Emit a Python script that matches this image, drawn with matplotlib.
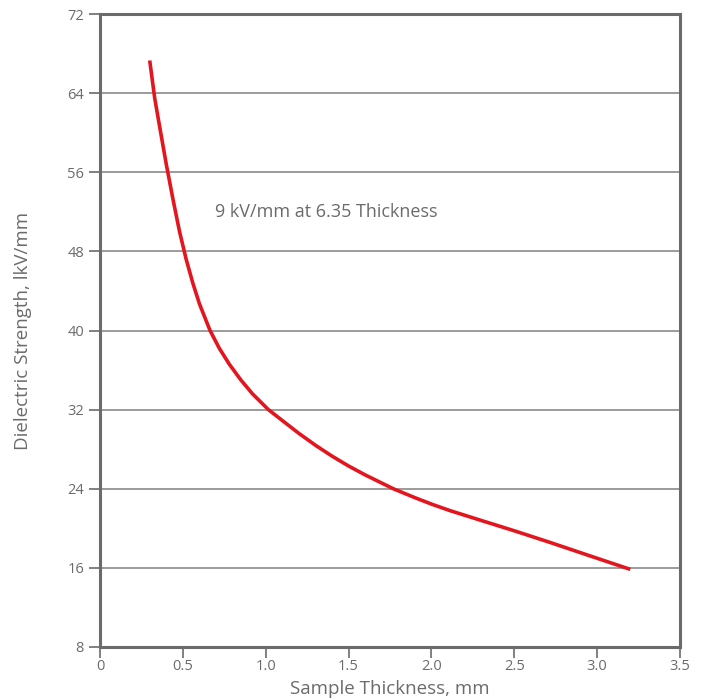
import matplotlib
matplotlib.use("Agg")
import matplotlib.pyplot as plt

thickness = [0.30, 0.33, 0.36, 0.40, 0.44, 0.48, 0.52, 0.56, 0.60, 0.664, 0.72, 0.78, 0.85, 0.92,
             1.016, 1.10, 1.20, 1.30, 1.40, 1.50, 1.60, 1.77, 1.90, 2.00, 2.11, 2.29, 2.50, 2.72, 2.95, 3.20]
strength = [67.3, 63.5, 60.6, 56.8, 53.3, 50.0, 47.2, 44.8, 42.7, 40.0, 38.2, 36.6, 35.0, 33.6,
            32.0, 30.9, 29.6, 28.4, 27.3, 26.3, 25.4, 24.0, 23.1, 22.45, 21.8, 20.85, 19.75, 18.55, 17.25, 15.85]

xticks = [0, 0.5, 1.0, 1.5, 2.0, 2.5, 3.0, 3.5]
xticklabels = ["0", "0.5", "1.0", "1.5", "2.0", "2.5", "3.0", "3.5"]
yticks = [8, 16, 24, 32, 40, 48, 56, 64, 72]

annotation = "9 kV/mm at 6.35 Thickness"
xlabel = "Sample Thickness, mm"
ylabel = "Dielectric Strength, lkV/mm"

plt.rcParams['font.family'] = ['Open Sans', 'DejaVu Sans']
grey = "#6b6b6b"

fig = plt.figure(figsize=(7.04, 7.0), dpi=100)
ax = fig.add_axes([100/704, 1-647/700, 580/704, 633/700])

ax.set_xlim(0, 3.5)
ax.set_ylim(8, 72)
ax.set_xticks(xticks)
ax.set_xticklabels(xticklabels)
ax.set_yticks(yticks)

ax.grid(axis='y', color='#8a8a8a', linewidth=1.2)
ax.set_axisbelow(True)

for s in ax.spines.values():
    s.set_color(grey)
    s.set_linewidth(2.2)

ax.tick_params(axis='both', colors=grey, labelcolor=grey, labelsize=10.5, length=8, width=1.2)
ax.tick_params(axis='x', pad=1)

ax.plot(thickness, strength, color='#e3161f', linewidth=2.6, solid_capstyle='butt',
        solid_joinstyle='round', zorder=3)

ax.text(0.694, 52.0, annotation, fontsize=13, color=grey, va='center', ha='left')

ax.set_xlabel(xlabel, fontsize=13.5, color=grey, labelpad=4)
ax.set_ylabel(ylabel, fontsize=13.5, color=grey, labelpad=25)

fig.savefig("out.png", dpi=100)
